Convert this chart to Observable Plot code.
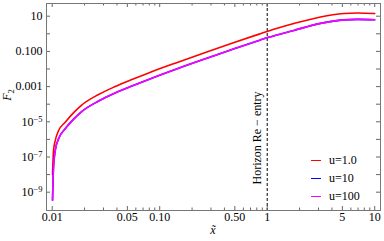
<!DOCTYPE html>
<html><head><meta charset="utf-8">
<script src="https://cdn.jsdelivr.net/npm/d3@7"></script>
<script src="https://cdn.jsdelivr.net/npm/@observablehq/plot@0.6"></script>
<style>
body{margin:0;background:#fff;}
#wrap{position:relative;width:384px;height:241px;font-family:"Liberation Serif",serif;}
#legend{position:absolute;left:311px;top:152px;font-size:12px;color:#000;}
#legend .row{display:flex;align-items:center;height:17.7px;}
#legend .sw{display:inline-block;width:10px;height:0;border-top:1.6px solid;margin-right:8px;}
</style></head><body><div id="wrap"><div id="legend"></div></div>
<script>
// x̃ sample points (shared)
const xs = [0.01007,0.01028,0.01066,0.01145,0.01321,0.016,0.0188,0.027,0.0385,0.0551,0.08,0.15,0.3,0.5,0.866,1.03,1.77,3.13,5.16,6.87,10];
// F2 for u=1.0
const f2U1 = [1.0e-8,2.24e-7,8.3e-7,3.1e-6,9.5e-6,3.55e-5,8.9e-5,3.55e-4,1.0e-3,2.5e-3,6.2e-3,0.0251,0.112,0.331,1.02,1.45,3.8,9.1,14.1,15.1,14.1];
// F2 for u=10 (coincides with u=100)
const f2U10 = [3.5e-10,2.5e-8,2.24e-7,1.07e-6,4.0e-6,1.51e-5,3.8e-5,1.51e-4,4.3e-4,1.07e-3,2.63e-3,0.011,0.049,0.145,0.447,0.63,1.55,3.9,6.2,6.6,6.3];
// F2 for u=100
const f2U100 = [3.5e-10,2.5e-8,2.24e-7,1.07e-6,4.0e-6,1.51e-5,3.8e-5,1.51e-4,4.3e-4,1.07e-3,2.63e-3,0.011,0.049,0.145,0.447,0.63,1.55,3.9,6.2,6.6,6.3];
const seriesNames = ["u=1.0","u=10","u=100"];
const seriesColors = ["#ff0000","#0000ff","#ff00ff"];
const xTickValues = [0.01,0.05,0.1,0.5,1,5,10];
const xTickLabels = ["0.01","0.05","0.10","0.50","1","5","10"];
const xMinorTicks = [0.02,0.03,0.04,0.06,0.07,0.08,0.09,0.2,0.3,0.4,0.6,0.7,0.8,0.9,2,3,4,6,7,8,9];
const yTickValues = [10,0.1,0.001,1e-5,1e-7,1e-9];
const yTickBase = ["10","0.100","0.001","10","10","10"];
const yTickSup = ["","","","\u22125","\u22127","\u22129"];
const yDecadeTicks = [10,1,0.1,0.01,1e-3,1e-4,1e-5,1e-6,1e-7,1e-8,1e-9];
const horizonX = [1];
const horizonLabel = "Horizon Re \u2212 entry";

const seriesVals = [f2U1, f2U10, f2U100];
const rows = seriesNames.flatMap((s, i) => xs.map((x, j) => ({x, y: seriesVals[i][j], s})));
const xTicks = xTickValues.map((v, i) => ({v, t: xTickLabels[i]}));
const yTicks = yTickValues.map((v, i) => ({v, t: yTickBase[i] + (yTickSup[i] ? "|" + yTickSup[i] : "")}));

const W = 384, H = 241, mL = 46, mR = 4, mT = 3, mB = 31;
const fW = W - mL - mR, fH = H - mT - mB;
const tickCol = "#666";

const chart = Plot.plot({
  width: W, height: H,
  marginLeft: mL, marginRight: mR, marginTop: mT, marginBottom: mB,
  style: {fontFamily: "Liberation Serif, serif", fontSize: "12px", color: "#000", background: "#fff"},
  x: {type: "log", domain: [0.00885, 11.32], axis: null},
  y: {type: "log", domain: [9.1e-11, 52.7], axis: null},
  color: {domain: seriesNames, range: seriesColors},
  marks: [
    Plot.ruleX(horizonX, {stroke: "#000", strokeDasharray: "3,2", strokeWidth: 1}),
    Plot.text([horizonLabel], {x: () => horizonX[0], text: d => d, rotate: -90, dx: -10, dy: 31, fontSize: 12, fill: "#000"}),
    Plot.line(rows, {x: "x", y: "y", z: "s", stroke: "s", curve: "monotone-x", strokeWidth: 1.6}),
    Plot.tickX(xTickValues, {x: d => d, insetTop: fH - 4, stroke: tickCol}),
    Plot.tickX(xMinorTicks, {x: d => d, insetTop: fH - 2.5, stroke: tickCol}),
    Plot.tickX(xTickValues, {x: d => d, insetBottom: fH - 4, stroke: tickCol}),
    Plot.tickX(xMinorTicks, {x: d => d, insetBottom: fH - 2.5, stroke: tickCol}),
    Plot.tickY(yDecadeTicks, {y: d => d, insetRight: fW - 4, stroke: tickCol}),
    Plot.tickY(yDecadeTicks, {y: d => d, insetLeft: fW - 4, stroke: tickCol}),
    Plot.text(xTicks, {x: "v", text: "t", frameAnchor: "bottom", lineAnchor: "top", dy: 2, fill: "#000", fontSize: 12}),
    Plot.text(yTicks, {y: "v", text: "t", frameAnchor: "left", textAnchor: "end", dx: -4, fill: "#000", fontSize: 12}),
    Plot.frame({stroke: "#777", strokeWidth: 1})
  ]
});
document.getElementById("wrap").prepend(chart);

d3.select(chart).selectAll("text").each(function() {
  const t = this.textContent;
  if (t.includes("|")) {
    const [b, s] = t.split("|");
    const el = d3.select(this);
    el.text(b);
    el.append("tspan").attr("dy", "-0.45em").attr("font-size", "8.5px").text(s);
  }
});

const svg = d3.select(chart);
const yl = svg.append("text").attr("transform", "translate(11,95) rotate(-90)")
  .attr("text-anchor", "middle").attr("font-family", "Liberation Serif, serif").attr("font-size", "12px").attr("font-style", "italic");
yl.append("tspan").text("F");
yl.append("tspan").attr("dy", "3px").attr("font-size", "8.5px").attr("font-style", "normal").text("2");
svg.append("text").attr("x", (mL + W - mR) / 2).attr("y", 234)
  .attr("text-anchor", "middle").attr("font-family", "Liberation Serif, serif").attr("font-size", "12px").attr("font-style", "italic").text("x\u0303");

const lg = document.getElementById("legend");
seriesNames.forEach((s, i) => {
  const r = document.createElement("div"); r.className = "row";
  const sw = document.createElement("span"); sw.className = "sw"; sw.style.borderTopColor = seriesColors[i];
  const tx = document.createElement("span"); tx.textContent = s;
  r.appendChild(sw); r.appendChild(tx); lg.appendChild(r);
});
</script></body></html>
